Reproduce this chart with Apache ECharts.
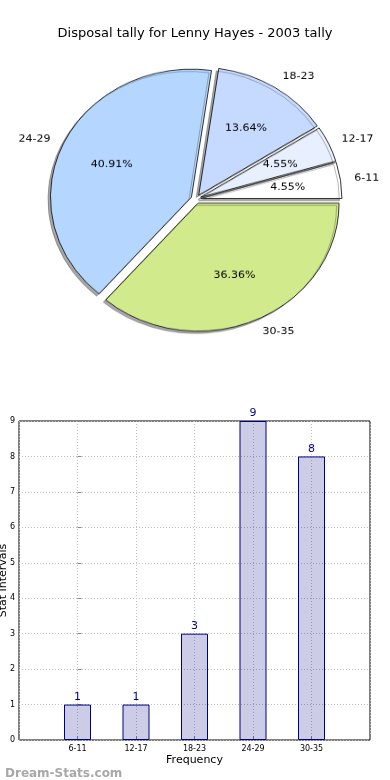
<!DOCTYPE html>
<html>
<head>
<meta charset="utf-8">
<script src="https://cdn.jsdelivr.net/npm/echarts@6/dist/echarts.min.js"></script>
<style>
  html, body { margin: 0; padding: 0; background: #fff; }
  #wrap { position: relative; width: 390px; height: 780px; overflow: hidden; }
  #bars { position: absolute; left: 0; top: 0; width: 390px; height: 780px; }
  #pie { position: absolute; left: 0; top: 0; width: 390px; height: 420px;
         transform: scaleY(0.908); transform-origin: 0 0; }
</style>
</head>
<body>
<div id="wrap">
  <div id="bars"></div>
  <div id="pie"></div>
</div>
<script>
// ---- data ----
var categories = ['6-11', '12-17', '18-23', '24-29', '30-35'];
var counts = [1, 1, 3, 9, 8];
var sliceColors = ['#ffffff', '#e8f0ff', '#c6d9ff', '#b4d6ff', '#d0ea8c'];
var yTicks = [0, 1, 2, 3, 4, 5, 6, 7, 8, 9];
var titleText = 'Disposal tally for Lenny Hayes - 2003 tally';

var FONT = 'DejaVu Sans';
var total = counts.reduce(function (a, b) { return a + b; }, 0);

// ---- bar chart (plus title and watermark) ----
var bars = echarts.init(document.getElementById('bars'), null, { renderer: 'canvas' });
bars.setOption({
  animation: false,
  backgroundColor: '#fff',
  textStyle: { fontFamily: FONT },
  title: [
    { text: titleText, left: 'center', top: 22,
      textStyle: { fontFamily: FONT, fontSize: 13, fontWeight: 'normal', color: '#000' } },
    { text: 'Dream-Stats.com', left: 0, top: 763,
      textStyle: { fontFamily: FONT, fontSize: 12, fontWeight: 'bold', color: '#a8a8a8' } }
  ],
  grid: { left: 19, right: 20, top: 421, bottom: 40, show: true,
          containLabel: false, outerBoundsMode: 'none',
          borderColor: '#000', borderWidth: 1, backgroundColor: 'transparent' },
  xAxis: {
    type: 'value', min: -1, max: 5, interval: 1,
    name: 'Frequency', nameLocation: 'middle', nameGap: 15, nameMoveOverlap: false,
    nameTextStyle: { fontFamily: FONT, fontSize: 11, color: '#000' },
    axisLine: { show: false },
    axisTick: { show: true, inside: true, length: 4, lineStyle: { color: '#888' } },
    axisLabel: {
      fontFamily: FONT, fontSize: 8, color: '#000', margin: 5,
      formatter: function (v) { return categories[v] !== undefined ? categories[v] : ''; }
    },
    splitLine: { show: true, lineStyle: { color: '#c0c0c0', type: [1, 2], width: 1 } }
  },
  yAxis: {
    type: 'value', min: 0, max: 9, interval: 1,
    name: 'Stat Intervals', nameLocation: 'middle', nameGap: 10, nameRotate: 90,
    nameMoveOverlap: false,
    nameTextStyle: { fontFamily: FONT, fontSize: 11, color: '#000' },
    axisLine: { show: false },
    axisTick: { show: true, inside: true, length: 4, lineStyle: { color: '#888' } },
    axisLabel: { fontFamily: FONT, fontSize: 8, color: '#000', margin: 4,
                 formatter: function (v) { return yTicks.indexOf(v) >= 0 ? String(v) : ''; } },
    splitLine: { show: true, lineStyle: { color: '#c0c0c0', type: [1, 2], width: 1 } }
  },
  series: [{
    type: 'bar',
    barWidth: 27,
    data: counts.map(function (v, i) { return [i, v]; }),
    itemStyle: { color: 'rgba(0,0,128,0.2)', borderColor: '#000080', borderWidth: 1 },
    label: { show: true, position: 'top', distance: 2, fontFamily: FONT, fontSize: 11,
             color: '#00008b', formatter: function (p) { return p.value[1]; } },
    emphasis: { disabled: true }
  }]
});

// ---- pie chart (elliptical via CSS scaleY) ----
var R = 141;
var pieCenter = [196, 219.2];
var pieData = categories.map(function (c, i) {
  return { name: c, value: counts[i], selected: true,
           itemStyle: { color: sliceColors[i] } };
});
var pctData = categories.map(function (c, i) {
  return { name: c, value: counts[i], selected: true };
});

var pie = echarts.init(document.getElementById('pie'), null, { renderer: 'canvas' });
pie.setOption({
  animation: false,
  backgroundColor: 'transparent',
  series: [
    {
      type: 'pie',
      center: pieCenter,
      radius: [0, R],
      startAngle: 0,
      clockwise: false,
      selectedMode: 'multiple',
      selectedOffset: 5,
      avoidLabelOverlap: false,
      data: pieData,
      itemStyle: { borderColor: '#000', borderWidth: 0.8,
                   shadowColor: 'rgba(60,60,60,0.45)', shadowBlur: 0,
                   shadowOffsetX: -2.5, shadowOffsetY: 2.5 },
      label: { show: true, position: 'outside', formatter: '{b}',
               fontFamily: FONT, fontSize: 11, color: '#000', distanceToLabelLine: 0 },
      labelLine: { show: false, length: 14, length2: 0 },
      emphasis: { disabled: true },
      silent: true
    },
    {
      type: 'pie',
      center: pieCenter,
      radius: [R * 0.2, R],
      startAngle: 0,
      clockwise: false,
      selectedMode: 'multiple',
      selectedOffset: 5,
      avoidLabelOverlap: false,
      data: pctData,
      itemStyle: { color: 'rgba(0,0,0,0)', borderWidth: 0 },
      label: { show: true, position: 'inside', fontFamily: FONT, fontSize: 11, color: '#000',
               formatter: function (p) { return (p.value / total * 100).toFixed(2) + '%'; } },
      labelLine: { show: false },
      emphasis: { disabled: true },
      silent: true
    }
  ]
});
</script>
</body>
</html>
